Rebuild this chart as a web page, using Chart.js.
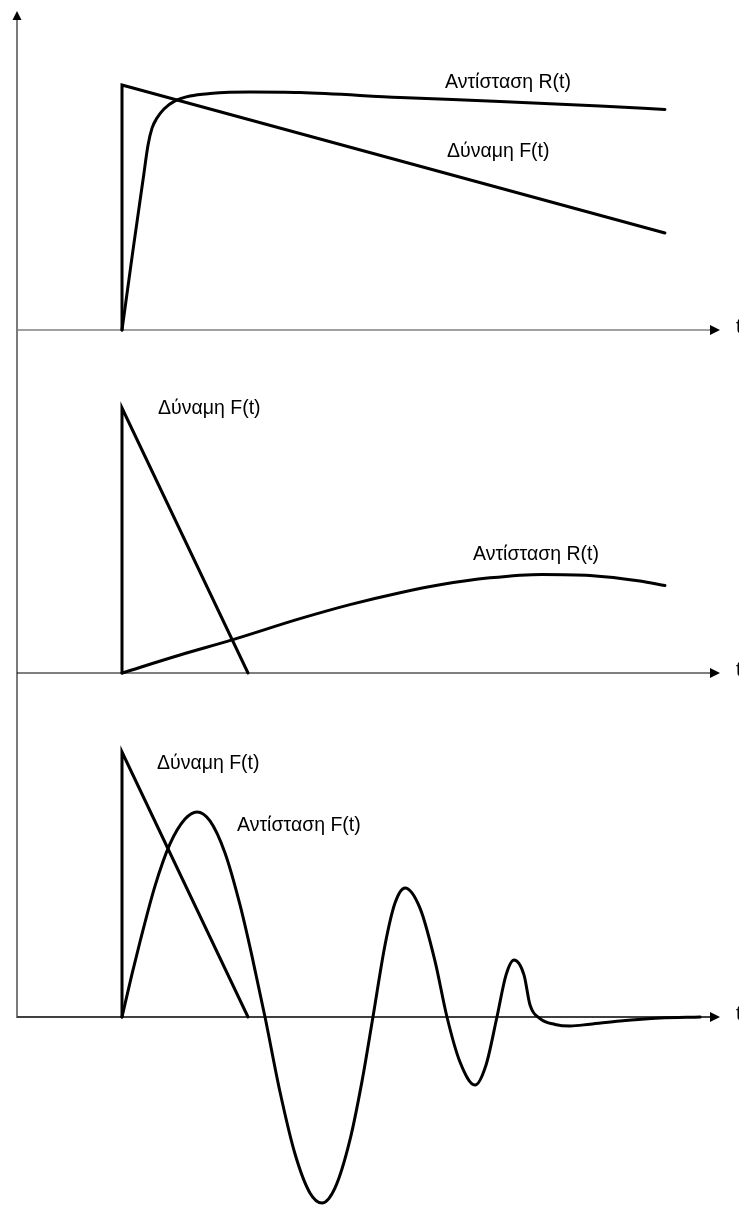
<!DOCTYPE html>
<html><head><meta charset="utf-8">
<script src="https://cdn.jsdelivr.net/npm/chart.js@4"></script>
<style>
html,body{margin:0;padding:0;background:#fff;}
#wrap{position:relative;width:739px;height:1207px;overflow:hidden;background:#fff;}
canvas{position:absolute;left:0;}
</style></head><body>
<div id="wrap">
<canvas id="c1" width="739" height="340" style="top:0px"></canvas>
<canvas id="c2" width="739" height="343" style="top:340px"></canvas>
<canvas id="c3" width="739" height="524" style="top:683px"></canvas>
</div>
<script>
// ---------- DATA ----------
// Panel 1
const p1ForceT = [1, 1, 6.171];
const p1ForceY = [0, 1, 0.396];
const p1ResT = [1, 1.105, 1.2, 1.248, 1.286, 1.333, 1.4, 1.505, 1.648, 1.838, 2.219, 2.695, 3.648, 4.6, 5.552, 6.171];
const p1ResY = [0, 0.327, 0.612, 0.755, 0.824, 0.865, 0.902, 0.935, 0.955, 0.965, 0.971, 0.969, 0.949, 0.933, 0.914, 0.9];
// Panel 2
const p2ForceT = [1, 1, 2.2];
const p2ForceY = [0, 1, 0];
const p2ResT = [1, 1.552, 2.048, 2.695, 3.171, 3.648, 4.029, 4.505, 5.0, 5.457, 5.933, 6.171];
const p2ResY = [0, 0.068, 0.125, 0.205, 0.258, 0.303, 0.333, 0.359, 0.372, 0.368, 0.347, 0.330];
// Panel 3
const p3ForceT = [1, 1, 2.2];
const p3ForceY = [0, 1, 0];
const p3ResT = [1.0, 1.095, 1.171, 1.314, 1.457, 1.6, 1.714, 1.838, 1.981, 2.124, 2.238, 2.362,
  2.505, 2.648, 2.790, 2.905, 3.029, 3.171, 3.286, 3.390,
  3.505, 3.6, 3.695, 3.838, 3.981, 4.095,
  4.219, 4.362, 4.467, 4.571,
  4.657, 4.733, 4.829, 4.886, 4.981,
  5.124, 5.267, 5.457, 5.743, 6.124, 6.505];
const p3ResY = [0, 0.162, 0.283, 0.494, 0.653, 0.747, 0.774, 0.740, 0.619, 0.423, 0.230, 0,
  -0.283, -0.517, -0.664, -0.702, -0.645, -0.464, -0.242, 0,
  0.272, 0.430, 0.487, 0.411, 0.211, 0,
  -0.170, -0.257, -0.181, 0,
  0.158, 0.215, 0.158, 0.045, -0.006,
  -0.028, -0.034, -0.027, -0.015, -0.004, 0];
// Texts
const axisLabel = 't';
const p1Labels = ['Αντίσταση R(t)', 'Δύναμη F(t)'];
const p2Labels = ['Δύναμη F(t)', 'Αντίσταση R(t)'];
const p3Labels = ['Δύναμη F(t)', 'Αντίσταση F(t)'];

// ---------- DRAWING ----------
const T_MIN = -17/105, T_MAX = 722/105, AXIS_END_T = 6.695, T_LABEL_T = 6.848;
const FONT = '19.5px "Liberation Sans", Arial, sans-serif';

function pts(ts, ys){ return ts.map((t,i)=>({x:t, y:ys[i]})); }

const decoPlugin = {
  id: 'deco',
  beforeDatasetsDraw(chart, args, o){
    const ctx = chart.ctx, xs = chart.scales.x, ys = chart.scales.y, ca = chart.chartArea;
    const x0 = xs.getPixelForValue(0), y0 = ys.getPixelForValue(0);
    const xe = xs.getPixelForValue(AXIS_END_T);
    ctx.save();
    // vertical axis
    ctx.strokeStyle = '#7a7a7a'; ctx.lineWidth = 2;
    const top = o.arrowUp ? ca.top + 18 : ca.top;
    const bot = o.vToZero ? y0 + 1 : ca.bottom;
    ctx.beginPath(); ctx.moveTo(x0, top); ctx.lineTo(x0, bot); ctx.stroke();
    if (o.arrowUp){
      const ty = ca.top + 11;
      ctx.fillStyle = '#000';
      ctx.beginPath(); ctx.moveTo(x0, ty); ctx.lineTo(x0-4.5, ty+9); ctx.lineTo(x0+4.5, ty+9); ctx.closePath(); ctx.fill();
    }
    // horizontal axis
    ctx.strokeStyle = o.hColor; ctx.lineWidth = o.hWidth;
    ctx.beginPath(); ctx.moveTo(x0, y0); ctx.lineTo(xe-8, y0); ctx.stroke();
    ctx.fillStyle = '#000';
    ctx.beginPath(); ctx.moveTo(xe, y0); ctx.lineTo(xe-10, y0-5); ctx.lineTo(xe-10, y0+5); ctx.closePath(); ctx.fill();
    ctx.restore();
  },
  afterDatasetsDraw(chart, args, o){
    const ctx = chart.ctx, xs = chart.scales.x, ys = chart.scales.y;
    ctx.save();
    ctx.font = FONT; ctx.fillStyle = '#000'; ctx.textBaseline = 'middle'; ctx.textAlign = 'left';
    ctx.fillText(axisLabel, xs.getPixelForValue(T_LABEL_T), ys.getPixelForValue(0) - 2);
    (o.labels || []).forEach(l => {
      ctx.fillText(l.text, xs.getPixelForValue(l.t), ys.getPixelForValue(l.y));
    });
    ctx.restore();
  }
};

function makeChart(id, datasets, yMin, yMax, deco){
  return new Chart(document.getElementById(id), {
    type: 'line',
    data: { datasets },
    plugins: [decoPlugin],
    options: {
      responsive: false, animation: false, devicePixelRatio: 1,
      layout: { padding: 0 },
      elements: { point: { radius: 0, hoverRadius: 0 }, line: { borderColor: '#000', borderWidth: 3, borderJoinStyle: 'miter', borderCapStyle: 'round' } },
      scales: {
        x: { type: 'linear', min: T_MIN, max: T_MAX, display: false },
        y: { type: 'linear', min: yMin, max: yMax, display: false }
      },
      plugins: { legend: { display: false }, tooltip: { enabled: false }, deco }
    }
  });
}

function forceDs(t, y){ return { data: pts(t, y), borderColor: '#000', borderWidth: 3, tension: 0, fill: false }; }
function resDs(t, y){ return { data: pts(t, y), borderColor: '#000', borderWidth: 3, cubicInterpolationMode: 'monotone', fill: false }; }

makeChart('c1', [forceDs(p1ForceT, p1ForceY), resDs(p1ResT, p1ResY)], -10/245, 330/245, {
  arrowUp: true, vToZero: false, hColor: '#808080', hWidth: 1.5,
  labels: [ {text: p1Labels[0], t: 4.076, y: 1.008}, {text: p1Labels[1], t: 4.095, y: 0.727} ]
});
makeChart('c2', [forceDs(p2ForceT, p2ForceY), resDs(p2ResT, p2ResY)], -10/265, 333/265, {
  arrowUp: false, vToZero: false, hColor: '#000', hWidth: 1.2,
  labels: [ {text: p2Labels[0], t: 1.343, y: 0.996}, {text: p2Labels[1], t: 4.343, y: 0.445} ]
});
makeChart('c3', [forceDs(p3ForceT, p3ForceY), resDs(p3ResT, p3ResY)], -190/265, 334/265, {
  arrowUp: false, vToZero: true, hColor: '#404040', hWidth: 2,
  labels: [ {text: p3Labels[0], t: 1.333, y: 0.955}, {text: p3Labels[1], t: 2.095, y: 0.721} ]
});
</script>
</body></html>
